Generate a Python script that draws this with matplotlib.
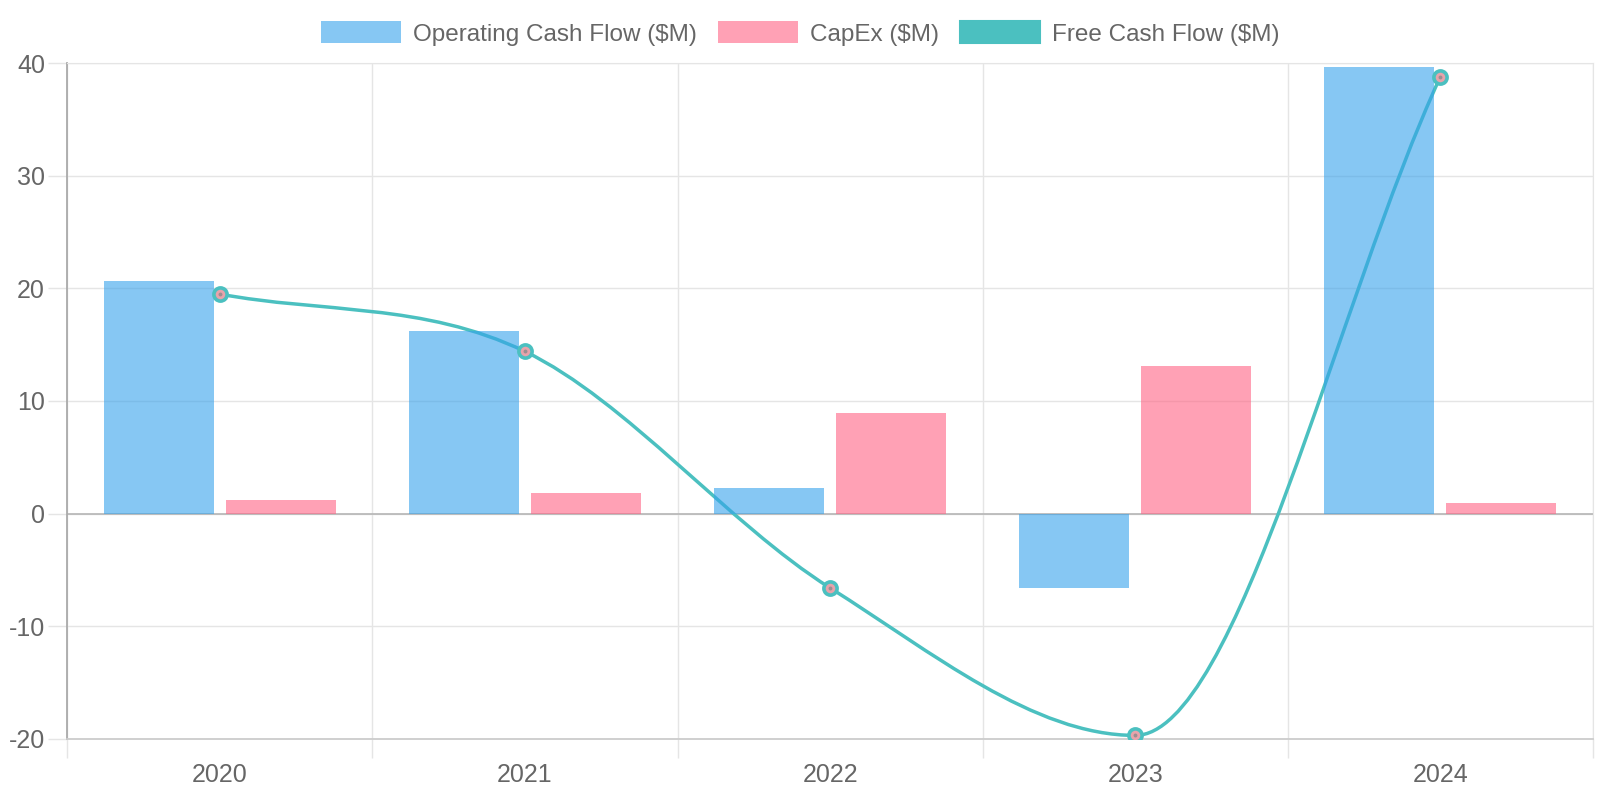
import numpy as np
import matplotlib
matplotlib.use("Agg")
import matplotlib.pyplot as plt
from matplotlib.patches import Patch, PathPatch
from matplotlib.path import Path

plt.rcParams["font.family"] = ["Liberation Sans", "DejaVu Sans"]
plt.rcParams["axes.unicode_minus"] = False

# data
years = ["2020", "2021", "2022", "2023", "2024"]
operating_cf = [20.7, 16.2, 2.3, -6.6, 39.7]
capex = [1.2, 1.8, 8.9, 13.1, 0.9]
free_cf = [19.5, 14.4, -6.6, -19.7, 38.8]

blue = (54 / 255, 162 / 255, 235 / 255, 0.6)
pink = (255 / 255, 99 / 255, 132 / 255, 0.6)
teal = "#4bc0c0"
text_col = "#666666"
grid_col = "#e5e5e5"

fig = plt.figure(figsize=(16, 8), dpi=100)
ax = fig.add_axes([0.042, 0.0765, 0.9536, 0.8445])

x = np.arange(len(years))
bar_w = 0.36

ax.bar(x - 0.2, operating_cf, width=bar_w, color=blue, zorder=3)
ax.bar(x + 0.2, capex, width=bar_w, color=pink, zorder=3)


# monotone cubic curve (same idea as chart.js 'monotone')
def monotone_path(xs, ys):
    xs = np.asarray(xs, float)
    ys = np.asarray(ys, float)
    n = len(xs)
    dk = np.diff(ys) / np.diff(xs)
    m = np.zeros(n)
    m[0] = dk[0]
    m[-1] = dk[-1]
    for i in range(1, n - 1):
        m[i] = 0 if dk[i - 1] * dk[i] <= 0 else (dk[i - 1] + dk[i]) / 2
    for i in range(n - 1):
        if dk[i] == 0:
            m[i] = m[i + 1] = 0
            continue
        a = m[i] / dk[i]
        b = m[i + 1] / dk[i]
        s = a * a + b * b
        if s > 9:
            t = 3 / np.sqrt(s)
            m[i] = a * t * dk[i]
            m[i + 1] = b * t * dk[i]
    verts = [(xs[0], ys[0])]
    codes = [Path.MOVETO]
    for i in range(n - 1):
        d = (xs[i + 1] - xs[i]) / 3
        verts += [(xs[i] + d, ys[i] + m[i] * d),
                  (xs[i + 1] - d, ys[i + 1] - m[i + 1] * d),
                  (xs[i + 1], ys[i + 1])]
        codes += [Path.CURVE4] * 3
    return Path(verts, codes)


ax.add_patch(PathPatch(monotone_path(x, free_cf), fill=False,
                       edgecolor=teal, lw=2.5, zorder=2))
ax.plot(x, free_cf, linestyle="none", marker="o", ms=9.5, mew=2.6,
        mfc="#e8a3ab", mec=teal, zorder=5)
ax.plot(x, free_cf, linestyle="none", marker="o", ms=2.8,
        mfc="#9a8f92", mec="none", zorder=6)

ax.set_xlim(-0.5, 4.5)
ax.set_ylim(-20, 40)

# y axis
ax.set_yticks([-20, -10, 0, 10, 20, 30, 40])
ax.tick_params(axis="y", length=14, width=1, color=grid_col, pad=2,
               labelsize=18, labelcolor=text_col)
ax.yaxis.grid(True, color=grid_col, lw=1)

# x axis: labels at centres, grid lines at category edges
ax.set_xticks(x)
ax.set_xticklabels(years)
ax.set_xticks(np.arange(-0.5, 5, 1), minor=True)
ax.tick_params(axis="x", which="major", length=0, pad=17.5,
               labelsize=18, labelcolor=text_col)
ax.tick_params(axis="x", which="minor", length=14, width=1, color=grid_col)
ax.xaxis.grid(True, which="minor", color=grid_col, lw=1)
ax.xaxis.get_minor_ticks()[0].tick1line.set_color("#aaaaaa")
ax.set_axisbelow(True)

ax.axhline(0, color="#b5b5b5", lw=1.2, zorder=1)

for side in ["top", "right"]:
    ax.spines[side].set_color(grid_col)
ax.spines["left"].set_color("#aaaaaa")
ax.spines["left"].set_linewidth(1.3)
ax.spines["bottom"].set_color("#cccccc")
ax.spines["bottom"].set_linewidth(1.3)

handles = [
    Patch(facecolor=blue, edgecolor="none", label="Operating Cash Flow ($M)"),
    Patch(facecolor=pink, edgecolor="none", label="CapEx ($M)"),
    Patch(facecolor=teal, edgecolor=teal, lw=1.5, label="Free Cash Flow ($M)"),
]
leg = fig.legend(handles=handles, loc="center", bbox_to_anchor=(0.5, 0.958),
                 ncol=3, frameon=False, fontsize=17.5, handlelength=3.3,
                 handleheight=1.0, handletextpad=0.5, columnspacing=0.85,
                 borderpad=0)
for t in leg.get_texts():
    t.set_color(text_col)

fig.savefig("out.png", dpi=100)
